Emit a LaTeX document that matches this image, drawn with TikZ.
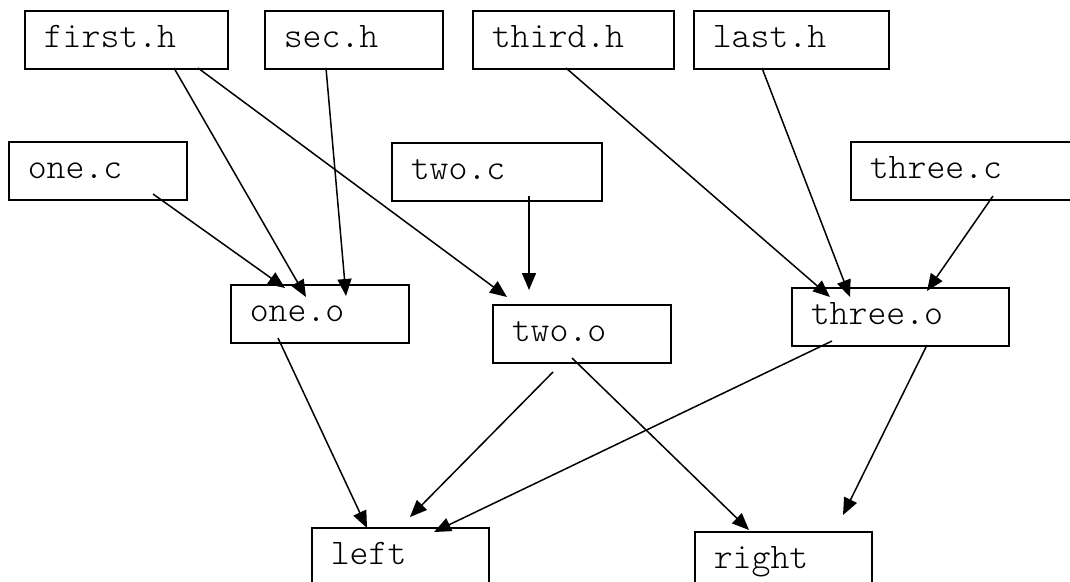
\documentclass[tikz,border=0pt]{standalone}
\usepackage{fontspec}
\newfontfamily\lighttt{Latin Modern Mono Light}
\usetikzlibrary{arrows.meta,calc}
\begin{document}
\begin{tikzpicture}[x=1pt,y=-1pt,
  filebox/.style={draw, line width=1.6pt, anchor=north west, inner xsep=19pt, inner ysep=0pt,
    minimum height=58pt, text height=22pt, text depth=6pt, align=left,
    font=\lighttt\fontsize{36}{36}\selectfont},
  dep/.style={line width=1.5pt, -{Triangle[length=17pt,width=14pt]}}]
\useasboundingbox (0,0) rectangle (1070,581);
\clip (0,0) rectangle (1070,581);
\fill[white] (0,0) rectangle (1070,581);
% header files
\node[filebox, text width=165pt] (firsth) at (24,10) {first.h};
\node[filebox, text width=140pt] (sech) at (264,10) {sec.h};
\node[filebox, text width=163pt] (thirdh) at (472,10) {third.h};
\node[filebox, text width=157pt] (lasth) at (693,10) {last.h};
% sources
\node[filebox, text width=140pt] (onec) at (8,141) {one.c};
\node[filebox, text width=172pt] (twoc) at (391,142) {two.c};
\node[filebox, text width=212pt] (threec) at (850,141) {three.c};
% objects
\node[filebox, text width=140pt] (oneo) at (230,284) {one.o};
\node[filebox, text width=140pt] (twoo) at (492,304) {two.o};
\node[filebox, text width=179pt] (threeo) at (791,287) {three.o};
% executables
\node[filebox, text width=139pt] (left) at (311,527) {left};
\node[filebox, text width=139pt] (right) at (694,531) {right};
% dependencies
\draw[dep] ($(firsth.north west)+(150,58)$) -- ($(oneo.north west)+(76,13)$);
\draw[dep] ($(firsth.north west)+(174,58)$) -- ($(twoo.north west)+(15,-7)$);
\draw[dep] ($(sech.north west)+(62,58)$) -- ($(oneo.north west)+(116,12)$);
\draw[dep] ($(onec.north west)+(145,53)$) -- ($(oneo.north west)+(55,4)$);
\draw[dep] ($(twoc.north west)+(138,54)$) -- ($(twoo.north west)+(37,-14)$);
\draw[dep] ($(thirdh.north west)+(94,58)$) -- ($(threeo.north west)+(39,10)$);
\draw[dep] ($(lasth.north west)+(69,58)$) -- ($(threeo.north west)+(59,10)$);
\draw[dep] ($(threec.north west)+(143,55)$) -- ($(threeo.north west)+(136,4)$);
\draw[dep] ($(oneo.north west)+(48,54)$) -- ($(left.north west)+(56,1)$);
\draw[dep] ($(twoo.north west)+(61,68)$) -- ($(left.north west)+(99,-10)$);
\draw[dep] ($(twoo.north west)+(80,54)$) -- ($(right.north west)+(55,-1)$);
\draw[dep] ($(threeo.north west)+(41,54)$) -- ($(left.north west)+(123,5)$);
\draw[dep] ($(threeo.north west)+(136,58)$) -- ($(right.north west)+(149,-16)$);
\end{tikzpicture}
\end{document}
